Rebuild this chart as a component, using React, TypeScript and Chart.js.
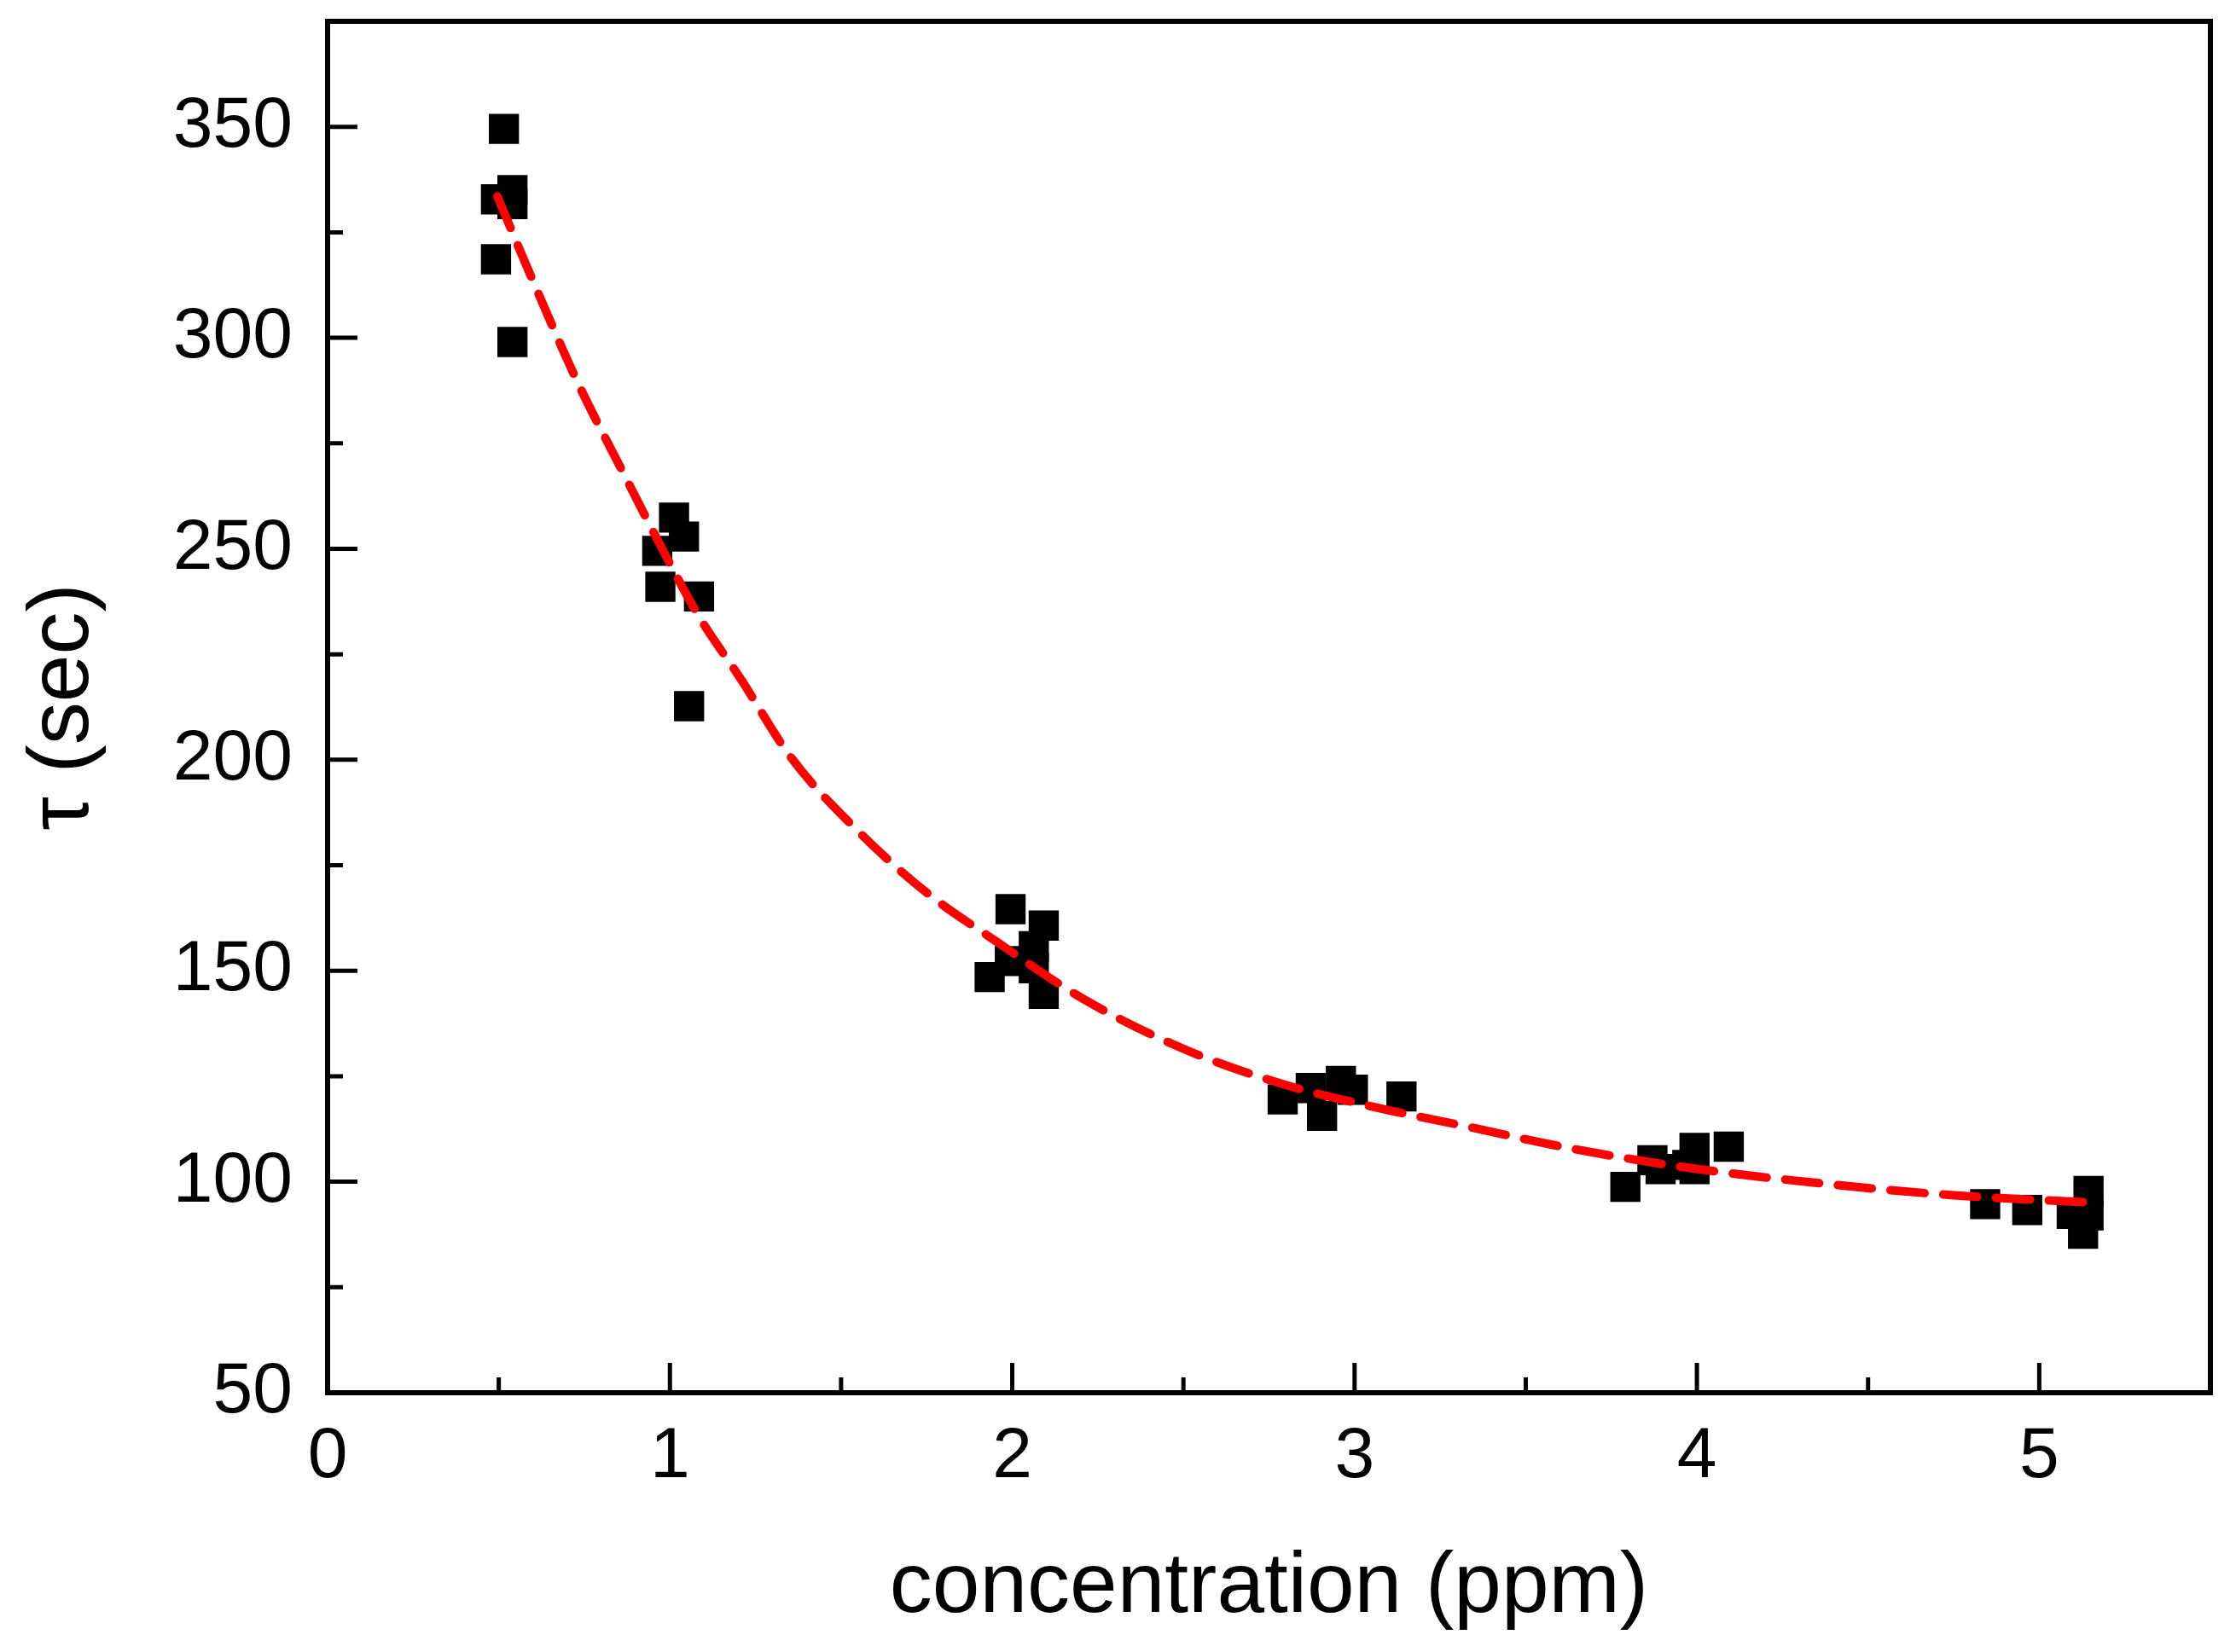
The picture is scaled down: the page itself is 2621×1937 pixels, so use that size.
import { useEffect, useRef } from 'react'
import { Chart, registerables, type ChartConfiguration, type Plugin } from 'chart.js'

Chart.register(...registerables)

// measured points (concentration in ppm, tau in sec)
const concentration = [
  0.515, 0.54, 0.54, 0.492, 0.492, 0.54,
  1.012, 1.041, 0.963, 0.972, 1.085, 1.056,
  1.995, 2.092, 2.063, 1.934, 1.993, 2.063, 2.092,
  2.79, 2.872, 2.96, 2.995, 2.905, 3.137,
  3.791, 3.87, 3.894, 3.972, 3.993, 3.993, 4.093,
  4.842, 4.965, 5.095, 5.144, 5.144, 5.128,
]
const tau = [
  349.5, 335, 331.7, 332.8, 318.6, 299,
  257.4, 252.9, 249.5, 241, 238.7, 212.7,
  164.6, 160.7, 155.8, 148.5, 152.3, 150.6, 144.5,
  119.5, 122.2, 123.9, 121.8, 115.6, 120.2,
  98.8, 105.1, 103, 104, 108, 103, 108.3,
  94.7, 93.3, 92.4, 97.8, 92, 87.7,
]

// fitted curve
const fitConcentration = [
  0.496, 0.583, 0.729, 0.875, 0.971, 1.083, 1.208, 1.354, 1.542, 1.75, 1.958,
  2.208, 2.5, 2.792, 3.042, 3.333, 3.625, 3.958, 4.375, 4.75, 5.146,
]
const fitTau = [
  333.5, 316.7, 289.7, 266.2, 251.0, 234.2, 219.0, 200.5, 183.7, 168.5, 156.7,
  143.3, 131.5, 123.1, 118.0, 113.0, 108.0, 103.5, 99.5, 96.8, 95.1,
]

const FONT = "'Liberation Sans', Arial, sans-serif"

const frameTicks: Plugin<'scatter'> = {
  id: 'frameTicks',
  afterDraw(chart) {
    const { ctx, chartArea: a, scales } = chart
    const x = scales.x
    const y = scales.y
    ctx.save()
    ctx.strokeStyle = '#000'
    ctx.lineWidth = 5
    ctx.beginPath()
    x.ticks.forEach((t) => {
      if (t.value <= x.min || t.value >= x.max) return
      const px = x.getPixelForValue(t.value)
      const len = Math.abs(t.value % 1) < 1e-6 ? 35 : 18
      ctx.moveTo(px, a.bottom)
      ctx.lineTo(px, a.bottom - len)
    })
    y.ticks.forEach((t) => {
      if (t.value <= y.min || t.value >= y.max) return
      const py = y.getPixelForValue(t.value)
      const len = t.value % 50 === 0 ? 35 : 18
      ctx.moveTo(a.left, py)
      ctx.lineTo(a.left + len, py)
    })
    ctx.stroke()
    ctx.lineWidth = 6
    ctx.strokeRect(a.left, a.top, a.right - a.left, a.bottom - a.top)
    ctx.restore()
  },
}

export default function App() {
  const canvasRef = useRef<HTMLCanvasElement | null>(null)

  useEffect(() => {
    const canvas = canvasRef.current
    if (!canvas) return

    const config: ChartConfiguration<'scatter'> = {
      type: 'scatter',
      data: {
        datasets: [
          {
            label: 'fit',
            data: fitConcentration.map((c, i) => ({ x: c, y: fitTau[i] })),
            showLine: true,
            borderColor: '#ff0000',
            borderWidth: 10,
            borderDash: [40, 22],
            borderCapStyle: 'round',
            cubicInterpolationMode: 'monotone',
            pointRadius: 0,
          },
          {
            label: 'tau',
            data: concentration.map((c, i) => ({ x: c, y: tau[i] })),
            pointStyle: 'rect',
            pointRadius: 25,
            pointBorderWidth: 0,
            backgroundColor: '#000',
            borderColor: '#000',
          },
        ],
      },
      options: {
        animation: false,
        responsive: true,
        maintainAspectRatio: false,
        layout: { padding: { left: 0, top: 18, right: 30, bottom: 0 } },
        plugins: {
          legend: { display: false },
          tooltip: { enabled: false },
        },
        scales: {
          x: {
            type: 'linear',
            min: 0,
            max: 5.5,
            border: { display: false },
            grid: { display: false, drawTicks: false },
            ticks: {
              stepSize: 0.5,
              padding: 25,
              color: '#000',
              font: { family: FONT, size: 84 },
              maxRotation: 0,
              callback: (v) => (Math.abs(Number(v) % 1) < 1e-6 ? String(v) : ''),
            },
            title: {
              display: true,
              text: 'concentration (ppm)',
              color: '#000',
              font: { family: FONT, size: 100 },
              padding: { top: 15, bottom: 15 },
            },
            afterFit: (scale) => {
              scale.height = 304
              scale.paddingLeft = 0
              scale.paddingRight = 0
            },
          },
          y: {
            type: 'linear',
            min: 50,
            max: 375,
            border: { display: false },
            grid: { display: false, drawTicks: false },
            ticks: {
              stepSize: 25,
              padding: 41,
              color: '#000',
              font: { family: FONT, size: 84 },
              callback: (v) => (Number(v) % 50 === 0 ? String(v) : ''),
            },
            title: {
              display: true,
              text: 'τ (sec)',
              color: '#000',
              font: { family: FONT, size: 100 },
              padding: { top: 15, bottom: 15 },
            },
            afterFit: (scale) => {
              scale.width = 384
              scale.paddingTop = 0
              scale.paddingBottom = 0
            },
          },
        },
      },
      plugins: [frameTicks],
    }

    const chart = new Chart(canvas, config)
    return () => {
      chart.destroy()
    }
  }, [])

  return (
    <div style={{ position: 'fixed', left: 0, top: 0, width: 2621, height: 1937, background: '#fff' }}>
      <canvas ref={canvasRef} />
    </div>
  )
}
